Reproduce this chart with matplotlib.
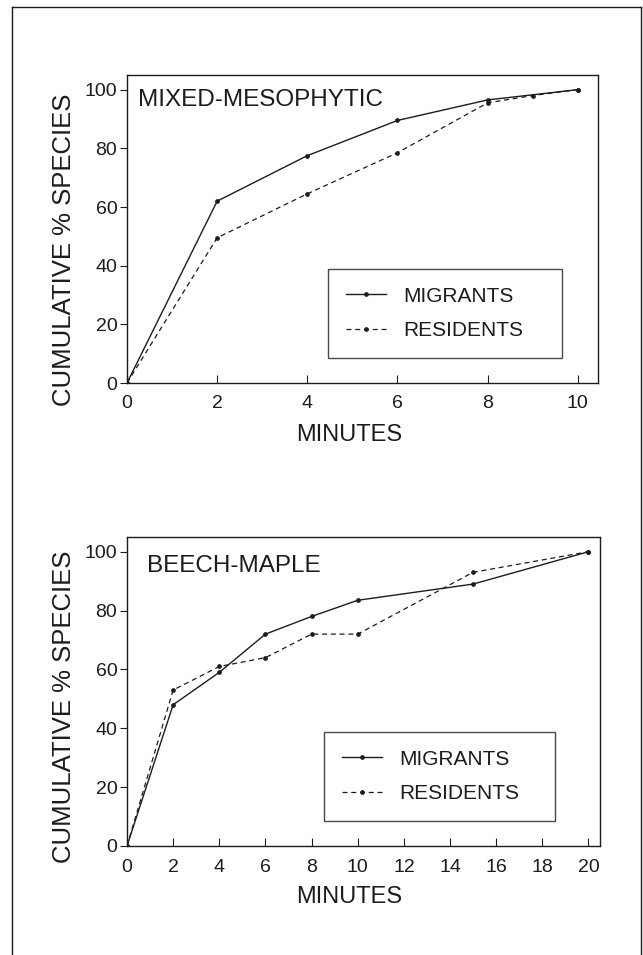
import matplotlib
matplotlib.use("Agg")
import matplotlib.pyplot as plt
from matplotlib.lines import Line2D

plt.rcParams['font.family'] = ['Liberation Sans', 'DejaVu Sans']

# ---- data ----
top_title = "MIXED-MESOPHYTIC"
top_mig_x = [0, 2, 4, 6, 8, 10]
top_mig_y = [0, 62, 77.5, 89.5, 96.5, 100]
top_res_x = [0, 2, 4, 6, 8, 9, 10]
top_res_y = [0, 49.5, 64.5, 78.5, 95.5, 98, 100]
top_xticks = [0, 2, 4, 6, 8, 10]

bot_title = "BEECH-MAPLE"
bot_mig_x = [0, 2, 4, 6, 8, 10, 15, 20]
bot_mig_y = [0, 48, 59, 72, 78, 83.5, 89, 100]
bot_res_x = [0, 2, 4, 6, 8, 10, 15, 20]
bot_res_y = [0, 53, 61, 64, 72, 72, 93, 100]
bot_xticks = [0, 2, 4, 6, 8, 10, 12, 14, 16, 18, 20]

yticks = [0, 20, 40, 60, 80, 100]
xlabel = "MINUTES"
ylabel = "CUMULATIVE % SPECIES"
series_labels = ["MIGRANTS", "RESIDENTS"]

W, H = 643, 955
fig = plt.figure(figsize=(W / 100, H / 100), dpi=100)

def fx(px):
    return px / W

def fy(py):
    return 1 - py / H

ink = "#1c1c1c"

def panel(rect_px, mx, my, rx, ry, xticks, xmax, title, title_pos,
          leg_box, xlab_px, ylab_px):
    l, t, r, b = rect_px
    w, h = r - l, b - t
    ax = fig.add_axes([fx(l), fy(b), fx(r) - fx(l), fy(t) - fy(b)])
    ax.plot(mx, my, '-', color=ink, lw=1.0, marker='o', ms=2.4,
            label=series_labels[0])
    ax.plot(rx, ry, '--', color=ink, lw=0.9, marker='o', ms=2.4,
            dashes=(4, 3), label=series_labels[1])
    ax.set_xlim(0, xmax)
    ax.set_ylim(0, 105)
    ax.set_xticks(xticks)
    ax.set_yticks(yticks)
    ax.tick_params(axis='x', direction='in', length=6, width=0.8,
                   labelsize=14, pad=9, colors=ink)
    ax.tick_params(axis='y', direction='out', length=5, width=0.8,
                   labelsize=14, pad=2, colors=ink)
    for s in ax.spines.values():
        s.set_linewidth(1.0)
        s.set_color(ink)
    ax.set_xlabel(xlabel, fontsize=17, color=ink, va='center')
    ax.xaxis.set_label_coords((xlab_px[0] - l) / w, (b - xlab_px[1]) / h)
    ax.set_ylabel(ylabel, fontsize=18.5, color=ink, va='center')
    ax.yaxis.set_label_coords((ylab_px[0] - l) / w, (b - ylab_px[1]) / h)
    ax.text((title_pos[0] - l) / w, (b - title_pos[1]) / h, title,
            transform=ax.transAxes, fontsize=17.5, color=ink,
            ha='left', va='center')
    bx0, by0, bx1, by1 = leg_box
    leg = ax.legend(loc='center',
                    bbox_to_anchor=((bx0 - l) / w, (b - by1) / h,
                                    (bx1 - bx0) / w, (by1 - by0) / h),
                    mode='expand', frameon=True, fancybox=False,
                    edgecolor=ink, fontsize=15, handlelength=1.9,
                    handletextpad=0.85, labelspacing=0.75, borderpad=0.87,
                    numpoints=1, borderaxespad=0)
    leg.get_frame().set_linewidth(1.0)
    for txt in leg.get_texts():
        txt.set_color(ink)
    return ax

panel((127, 75, 598, 383), top_mig_x, top_mig_y, top_res_x, top_res_y,
      top_xticks, 10.45, top_title, (138, 100),
      (328, 264, 562, 363), (349, 435), (64, 250))
panel((127, 537, 600, 846), bot_mig_x, bot_mig_y, bot_res_x, bot_res_y,
      bot_xticks, 20.5, bot_title, (147, 566),
      (324, 727, 555, 826), (349, 897), (64, 707))

# outer frame (open at bottom)
for (x0, y0, x1, y1) in [(12, 7, 12, 955), (12, 7, 641, 7), (641, 7, 641, 955)]:
    fig.add_artist(Line2D([fx(x0), fx(x1)], [fy(y0), fy(y1)],
                          color=ink, lw=1.0, transform=fig.transFigure))

fig.savefig("out.png", dpi=100, facecolor='white')
